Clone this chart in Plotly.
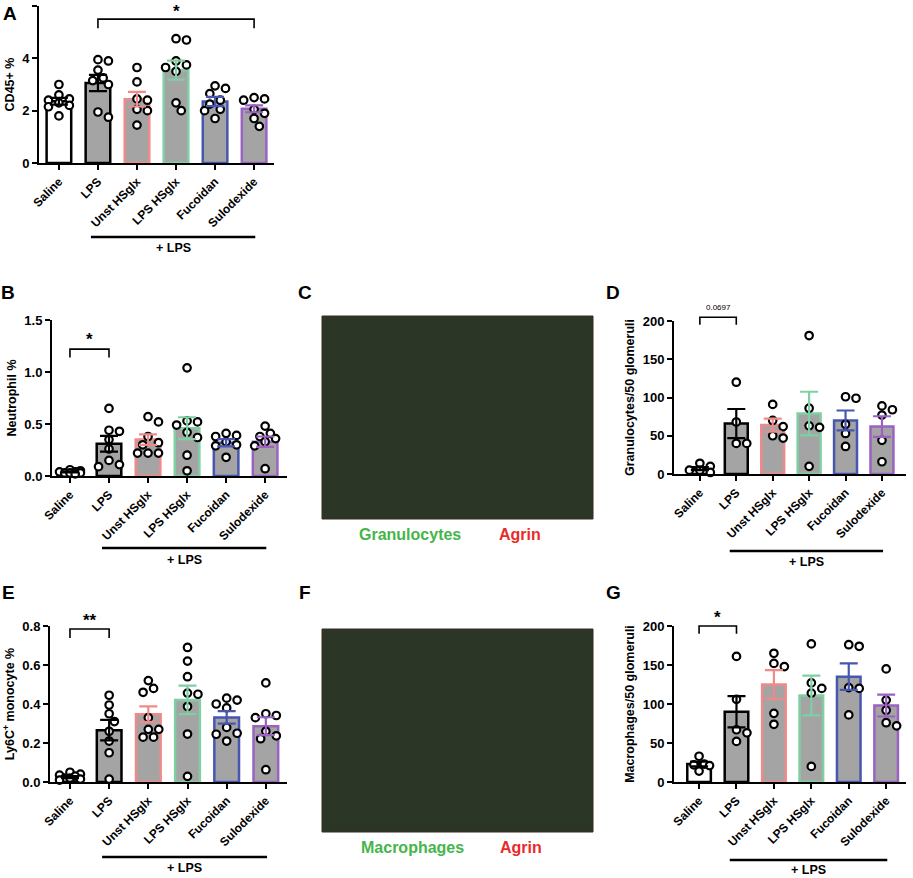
import plotly.graph_objects as go

W, H = 913, 878
FONT = "Liberation Sans"

groups = ["Saline", "LPS", "Unst HSglx", "LPS HSglx", "Fucoidan", "Sulodexide"]
edge_colors = ["#000000", "#000000", "#f08a8a", "#7fcfa3", "#4757b0", "#9c62c2"]
fill_colors = ["#ffffff", "#a4a4a4", "#a4a4a4", "#a4a4a4", "#a4a4a4", "#a4a4a4"]

# A: CD45+ %
cd45_pts = [
    [3.0, 2.6, 2.45, 2.4, 2.3, 2.2, 2.15, 1.8],
    [3.95, 3.9, 3.55, 3.25, 3.15, 3.0, 1.75, 1.95],
    [3.65, 3.1, 2.45, 2.4, 2.05, 2.0, 1.45],
    [4.7, 4.75, 3.9, 3.75, 3.65, 3.5, 2.3, 2.0],
    [2.95, 2.85, 2.65, 2.4, 2.25, 2.05, 2.0, 1.7],
    [2.45, 2.5, 2.4, 2.05, 1.9, 1.7, 1.4],
]
cd45_mean = [2.36, 3.06, 2.44, 3.55, 2.35, 2.07]
cd45_sem = [0.13, 0.31, 0.28, 0.36, 0.18, 0.13]

# B: Neutrophil %
neut_pts = [
    [0.06, 0.05, 0.04, 0.04, 0.03, 0.03, 0.03, 0.02],
    [0.65, 0.44, 0.43, 0.35, 0.26, 0.15, 0.11, 0.09],
    [0.57, 0.52, 0.38, 0.32, 0.30, 0.22, 0.22, 0.22],
    [1.04, 0.53, 0.52, 0.49, 0.42, 0.37, 0.20, 0.05],
    [0.41, 0.39, 0.38, 0.33, 0.30, 0.29, 0.18],
    [0.48, 0.41, 0.38, 0.36, 0.33, 0.29, 0.07],
]
neut_mean = [0.04, 0.31, 0.35, 0.46, 0.32, 0.33]
neut_sem = [0.005, 0.075, 0.05, 0.105, 0.035, 0.05]

# D: Granulocytes/50 glomeruli
gran_pts = [
    [14, 10, 5, 5, 2],
    [120, 68, 40, 40],
    [91, 70, 62, 47, 50],
    [181, 86, 63, 61, 10],
    [101, 99, 65, 53, 36],
    [89, 84, 77, 44, 16],
]
gran_mean = [7, 66, 64, 79, 70, 62]
gran_sem = [2, 19, 8.5, 28.5, 13, 13.5]

# E: Ly6C+ monocyte %
ly6c_pts = [
    [0.05, 0.04, 0.035, 0.03, 0.02, 0.02, 0.015, 0.01],
    [0.445, 0.395, 0.35, 0.31, 0.26, 0.21, 0.15, 0.015],
    [0.52, 0.48, 0.46, 0.33, 0.27, 0.27, 0.23, 0.23],
    [0.69, 0.62, 0.54, 0.456, 0.45, 0.387, 0.246, 0.029],
    [0.43, 0.42, 0.40, 0.38, 0.28, 0.25, 0.245, 0.21],
    [0.508, 0.341, 0.35, 0.33, 0.26, 0.222, 0.237, 0.063],
]
ly6c_mean = [0.025, 0.266, 0.348, 0.421, 0.331, 0.286]
ly6c_sem = [0.005, 0.053, 0.04, 0.073, 0.032, 0.046]

# G: Macrophages/50 glomeruli
macro_pts = [
    [33, 23, 22, 21, 14],
    [161, 106, 67, 63, 52],
    [165, 148, 152, 88, 74],
    [177, 120, 127, 114, 20],
    [176, 174, 121, 120, 86],
    [145, 105, 92, 72, 76],
]
macro_mean = [23, 90, 125, 111, 135, 98]
macro_sem = [3, 20, 18.5, 25.5, 17, 14]

# panel layout (pixel boxes of the plot areas)
panels = [
    dict(key="A", pts=cd45_pts, mean=cd45_mean, sem=cd45_sem, title="CD45+ %",
         box=(39, 274, 6, 163), xr=(-0.51, 5.51), yr=(0, 6), dtick=2, fmt="d",
         bracket=(1, 5, 5.5, 5.15, "*", 5.78), lps=(237, 248)),
    dict(key="B", pts=neut_pts, mean=neut_mean, sem=neut_sem, title="Neutrophil %",
         box=(52, 287, 320, 476), xr=(-0.46, 5.56), yr=(0, 1.5), dtick=0.5, fmt=".1f",
         bracket=(0, 1, 1.22, 1.14, "*", 1.31), lps=(548, 560)),
    dict(key="D", pts=gran_pts, mean=gran_mean, sem=gran_sem, title="Granulocytes/50 glomeruli",
         box=(674, 906, 321, 474), xr=(-0.71, 5.66), yr=(0, 200), dtick=50, fmt="d",
         bracket=(0, 1, 205, 195, "0.0697", 218), lps=(551, 562)),
    dict(key="E", pts=ly6c_pts, mean=ly6c_mean, sem=ly6c_sem, title="Ly6C<sup>+</sup> monocyte %",
         box=(50, 287, 626, 782), xr=(-0.51, 5.54), yr=(0, 0.8), dtick=0.2, fmt=".1f",
         bracket=(0, 1, 0.785, 0.738, "**", 0.83), lps=(857, 868)),
    dict(key="G", pts=macro_pts, mean=macro_mean, sem=macro_sem, title="Macrophages/50 glomeruli",
         box=(674, 906, 626, 782), xr=(-0.67, 5.53), yr=(0, 200), dtick=50, fmt="d",
         bracket=(0, 1, 200, 190, "*", 211), lps=(860, 870)),
]

letters = [("A", 10, 13), ("B", 8, 292), ("C", 305, 292), ("D", 613, 292),
           ("E", 8, 592), ("F", 305, 592), ("G", 613, 592)]

images = [
    dict(box=(322, 593, 316, 519), left="Granulocytes", right="Agrin", ly=534, lx=(410, 520)),
    dict(box=(322, 593, 629, 832), left="Macrophages", right="Agrin", ly=847, lx=(412, 521)),
]

DIAM = 9.5


def swarm(vals, ppu_x, ppu_y, max_off=1.35):
    """simple beeswarm offsets (in x data units)"""
    step = DIAM * 0.55
    cands = [0.0]
    for m in range(1, 6):
        cands += [m * step, -m * step]
    cands = [c for c in cands if abs(c) <= max_off * DIAM]
    placed = []
    offs = [0.0] * len(vals)
    for k in sorted(range(len(vals)), key=lambda j: -vals[j]):
        yk = vals[k] * ppu_y
        best_c, best_d = 0.0, -1.0
        for c in cands:
            d = min([((c - px) ** 2 + (yk - py) ** 2) ** 0.5 for px, py in placed], default=1e9)
            if d >= DIAM * 0.92:
                best_c = c
                break
            if d > best_d:
                best_d, best_c = d, c
        placed.append((best_c, yk))
        offs[k] = best_c / ppu_x
    return offs


fig = go.Figure()
shapes, annos = [], []
bold = dict(family=FONT, weight="bold", color="black")

for n, p in enumerate(panels, start=1):
    x0, x1, y0, y1 = p["box"]
    xa, ya = ("x", "y") if n == 1 else (f"x{n}", f"y{n}")
    ppu_x = (x1 - x0) / (p["xr"][1] - p["xr"][0])
    ppu_y = (y1 - y0) / (p["yr"][1] - p["yr"][0])

    def px(xv, p=p, x0=x0, ppu_x=ppu_x):
        return (x0 + (xv - p["xr"][0]) * ppu_x) / W

    def py(yv, p=p, y1=y1, ppu_y=ppu_y):
        return 1 - (y1 - (yv - p["yr"][0]) * ppu_y) / H

    for i, g in enumerate(groups):
        fig.add_trace(go.Bar(
            x=[i], y=[p["mean"][i]], width=0.63, xaxis=xa, yaxis=ya,
            marker=dict(color=fill_colors[i], line=dict(color=edge_colors[i], width=2.5)),
            hoverinfo="skip"))
    for i, g in enumerate(groups):
        offs = swarm(p["pts"][i], ppu_x, ppu_y)
        fig.add_trace(go.Scatter(
            x=[i + o for o in offs], y=p["pts"][i], mode="markers", xaxis=xa, yaxis=ya,
            cliponaxis=False,
            marker=dict(symbol="circle", size=7.5, color="white", line=dict(color="black", width=2.2))))
    for i, g in enumerate(groups):
        fig.add_trace(go.Scatter(
            x=[i], y=[p["mean"][i]], mode="markers", xaxis=xa, yaxis=ya, cliponaxis=False,
            marker=dict(size=1, opacity=0),
            error_y=dict(type="data", array=[p["sem"][i]], color=edge_colors[i], thickness=2.2, width=9)))

    axis_common = dict(showline=True, linecolor="black", linewidth=2, ticks="outside",
                       ticklen=5, tickwidth=2, tickcolor="black", showgrid=False, zeroline=False,
                       automargin=False)
    fig.layout[xa.replace("x", "xaxis")] = dict(
        domain=[x0 / W, x1 / W], anchor=ya, range=list(p["xr"]),
        tickvals=list(range(len(groups))), ticktext=groups, tickangle=-45,
        tickfont=dict(size=12, **bold), **axis_common)
    fig.layout[ya.replace("y", "yaxis")] = dict(
        domain=[1 - y1 / H, 1 - y0 / H], anchor=xa, range=list(p["yr"]),
        dtick=p["dtick"], tick0=0, tickformat=p["fmt"],
        tickfont=dict(size=13, **bold),
        title=dict(text=p["title"], font=dict(size=12.5, **bold), standoff=5), **axis_common)

    # significance bracket
    a, b, ytop, ydrop, lab, ylab = p["bracket"]
    shapes.append(dict(type="path", xref="paper", yref="paper",
                       path=f"M {px(a)} {py(ydrop)} L {px(a)} {py(ytop)} L {px(b)} {py(ytop)} L {px(b)} {py(ydrop)}",
                       line=dict(color="black", width=1.6)))
    small = not lab.startswith("*")
    annos.append(dict(x=(px(a) + px(b)) / 2, y=py(ylab), xref="paper", yref="paper", text=lab,
                      showarrow=False, xanchor="center", yanchor="middle",
                      font=dict(size=8 if small else 17, family=FONT, color="black",
                                weight="normal" if small else "bold")))

    # "+ LPS" line
    ly, ty = p["lps"]
    lx0, lx1 = px(1 - 0.18), px(5 + 0.03)
    shapes.append(dict(type="line", xref="paper", yref="paper", x0=lx0, x1=lx1,
                       y0=1 - ly / H, y1=1 - ly / H, line=dict(color="black", width=2.5)))
    annos.append(dict(x=(lx0 + lx1) / 2, y=1 - ty / H, xref="paper", yref="paper", text="+ LPS",
                      showarrow=False, xanchor="center", yanchor="middle", font=dict(size=12.5, **bold)))

for t, lx, ly in letters:
    annos.append(dict(x=lx / W, y=1 - ly / H, xref="paper", yref="paper", text=t, showarrow=False,
                      xanchor="center", yanchor="middle", font=dict(size=19, **bold)))

for im in images:
    bx0, bx1, by0, by1 = im["box"]
    shapes.append(dict(type="rect", xref="paper", yref="paper", x0=bx0 / W, x1=bx1 / W,
                       y0=1 - by1 / H, y1=1 - by0 / H, fillcolor="#2b3626",
                       line=dict(color="#3a2a22", width=1), layer="below"))
    annos.append(dict(x=im["lx"][0] / W, y=1 - im["ly"] / H, xref="paper", yref="paper", text=im["left"],
                      showarrow=False, xanchor="center", yanchor="middle",
                      font=dict(size=16, family=FONT, weight="bold", color="#45b649")))
    annos.append(dict(x=im["lx"][1] / W, y=1 - im["ly"] / H, xref="paper", yref="paper", text=im["right"],
                      showarrow=False, xanchor="center", yanchor="middle",
                      font=dict(size=16, family=FONT, weight="bold", color="#ea2a2a")))

fig.update_layout(
    width=W, height=H, margin=dict(l=0, r=0, t=0, b=0, autoexpand=False),
    paper_bgcolor="white", plot_bgcolor="white", showlegend=False,
    barmode="overlay", font=dict(family=FONT, color="black"),
    shapes=shapes, annotations=annos,
)

# page body has a default margin; drop it so the figure sits at the window's corner
fig.write_html("out.html", config={"displayModeBar": False},
               post_script="document.body.style.margin='0';document.body.style.overflow='hidden';")
